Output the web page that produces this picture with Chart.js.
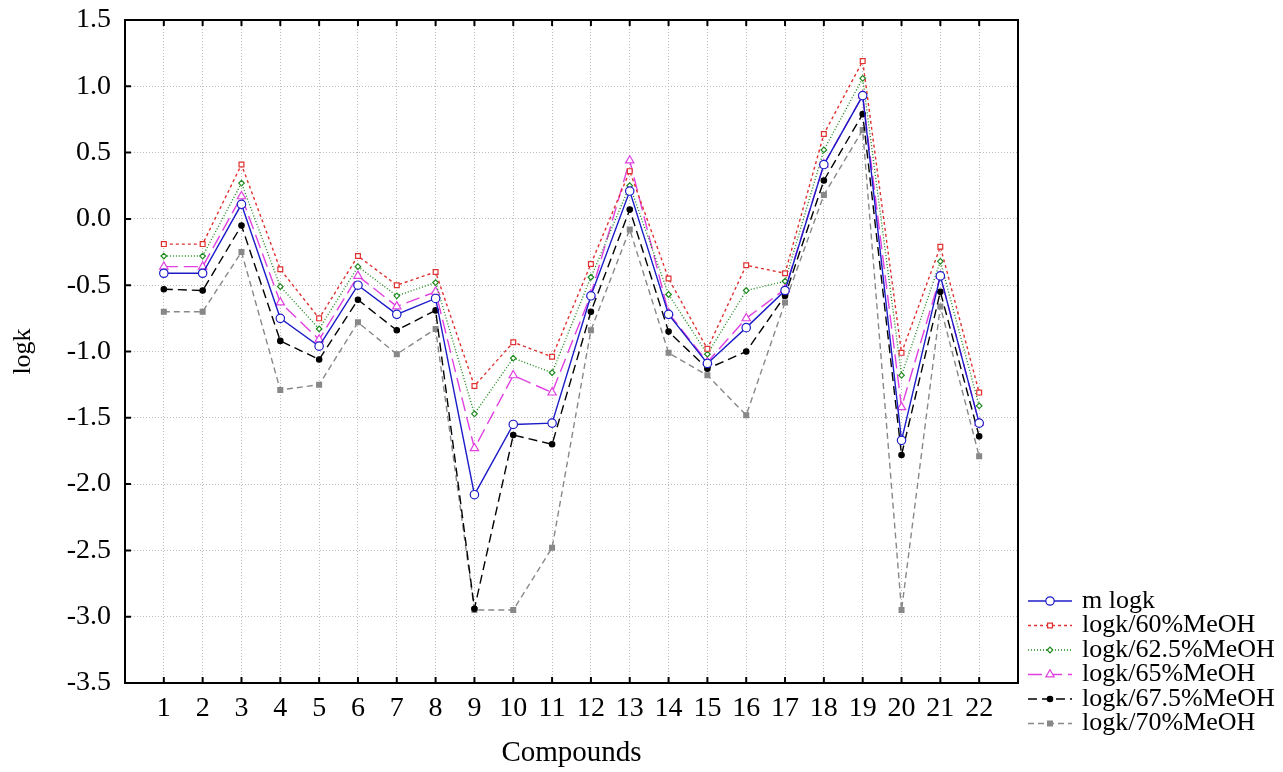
<!DOCTYPE html>
<html>
<head>
<meta charset="utf-8">
<script src="https://cdn.jsdelivr.net/npm/chart.js@4"></script>
<style>
  body { margin: 0; background: #fff; }
</style>
</head>
<body>
<canvas id="chart" width="1283" height="772"></canvas>
<script>
// data
const compounds = ["1","2","3","4","5","6","7","8","9","10","11","12","13","14","15","16","17","18","19","20","21","22"];
const yTicks = [-3.5, -3.0, -2.5, -2.0, -1.5, -1.0, -0.5, 0.0, 0.5, 1.0, 1.5];

const mLogk  = [-0.41,-0.41,0.11,-0.75,-0.96,-0.50,-0.72,-0.60,-2.08,-1.55,-1.54,-0.58,0.21,-0.72,-1.09,-0.82,-0.54,0.41,0.93,-1.67,-0.43,-1.54];
const meoh60 = [-0.19,-0.19,0.41,-0.38,-0.75,-0.28,-0.50,-0.40,-1.26,-0.93,-1.04,-0.34,0.36,-0.45,-0.98,-0.35,-0.41,0.64,1.19,-1.01,-0.21,-1.31];
const meoh625 = [-0.28,-0.28,0.27,-0.51,-0.83,-0.36,-0.58,-0.48,-1.47,-1.05,-1.16,-0.44,0.25,-0.57,-1.02,-0.54,-0.47,0.52,1.06,-1.18,-0.32,-1.41];
const meoh65 = [-0.36,-0.36,0.17,-0.63,-0.91,-0.43,-0.66,-0.55,-1.73,-1.18,-1.31,-0.57,0.44,-0.71,-1.08,-0.75,-0.53,0.41,0.93,-1.42,-0.43,-1.54];
const meoh675 = [-0.53,-0.54,-0.05,-0.92,-1.06,-0.61,-0.84,-0.69,-2.94,-1.63,-1.70,-0.70,0.07,-0.85,-1.13,-1.00,-0.58,0.29,0.79,-1.78,-0.55,-1.64];
const meoh70 = [-0.70,-0.70,-0.25,-1.29,-1.25,-0.78,-1.02,-0.83,-2.95,-2.95,-2.48,-0.84,-0.08,-1.01,-1.18,-1.48,-0.63,0.18,0.67,-2.95,-0.66,-1.79];

const serif = "'Liberation Serif', 'Times New Roman', serif";

function pts(values) {
  return values.map((v, i) => ({ x: i + 1, y: v }));
}

function series(label, values, color, dash, style, radius, fill) {
  return {
    label: label,
    data: pts(values),
    borderColor: color,
    borderWidth: 1.4,
    borderDash: dash,
    pointStyle: style,
    pointRadius: radius,
    pointBorderWidth: 1.2,
    pointBorderColor: color,
    pointBackgroundColor: fill,
    tension: 0,
  };
}

const datasets = [
  series("m logk", mLogk, "#1c1cc8", [], "circle", 4.2, "#fff"),
  series("logk/60%MeOH", meoh60, "#e03030", [3, 3], "rect", 3.4, "#fff"),
  series("logk/62.5%MeOH", meoh625, "#1f8a1f", [1, 2], "rectRot", 2.8, "#fff"),
  series("logk/65%MeOH", meoh65, "#e040e0", [14, 6], "triangle", 4.8, "#fff"),
  series("logk/67.5%MeOH", meoh675, "#000000", [9, 5], "circle", 2.7, "#000"),
  series("logk/70%MeOH", meoh70, "#888888", [6, 4], "rect", 3.4, "#888888"),
];

// inward ticks + line/marker legend
const extras = {
  id: "extras",
  afterDraw(chart) {
    const ctx = chart.ctx;
    const a = chart.chartArea;
    const xs = chart.scales.x;
    const ys = chart.scales.y;
    ctx.save();
    ctx.strokeStyle = "#000";
    ctx.lineWidth = 2;
    ctx.setLineDash([]);
    ctx.beginPath();
    for (let i = 1; i <= compounds.length; i++) {
      const px = xs.getPixelForValue(i);
      ctx.moveTo(px, a.bottom); ctx.lineTo(px, a.bottom - 6);
      ctx.moveTo(px, a.top); ctx.lineTo(px, a.top + 6);
    }
    yTicks.forEach(v => {
      const py = ys.getPixelForValue(v);
      ctx.moveTo(a.left, py); ctx.lineTo(a.left + 6, py);
    });
    ctx.stroke();
    ctx.strokeRect(a.left, a.top, a.right - a.left, a.bottom - a.top);

    // legend
    const lx = 1028, ly = 601, rowH = 24.5;
    chart.data.datasets.forEach((ds, i) => {
      const y = ly + i * rowH;
      ctx.strokeStyle = ds.borderColor;
      ctx.lineWidth = ds.borderWidth;
      ctx.setLineDash(ds.borderDash);
      ctx.beginPath();
      ctx.moveTo(lx, y); ctx.lineTo(lx + 44, y);
      ctx.stroke();
      ctx.setLineDash([]);
      ctx.lineWidth = ds.pointBorderWidth;
      ctx.fillStyle = ds.pointBackgroundColor;
      Chart.helpers.drawPoint(ctx, {
        pointStyle: ds.pointStyle,
        radius: ds.pointRadius,
        rotation: 0,
        borderWidth: ds.pointBorderWidth,
      }, lx + 22, y);
      ctx.fillStyle = "#000";
      ctx.font = "26px " + serif;
      ctx.textBaseline = "middle";
      ctx.fillText(ds.label, lx + 54, y);
    });
    ctx.restore();
  },
};

new Chart(document.getElementById("chart"), {
  type: "line",
  data: { datasets: datasets },
  options: {
    responsive: false,
    animation: false,
    layout: { padding: { left: 0, top: 20, right: 265, bottom: 0 } },
    plugins: {
      legend: { display: false },
      tooltip: { enabled: false },
    },
    scales: {
      x: {
        type: "linear",
        min: 0,
        max: 23,
        afterFit(scale) { scale.height = 89; },
        afterBuildTicks(scale) {
          scale.ticks = compounds.map((c, i) => ({ value: i + 1 }));
        },
        ticks: {
          padding: 9,
          color: "#000",
          font: { family: serif, size: 28 },
          callback: (v) => compounds[v - 1] || "",
          maxRotation: 0,
          autoSkip: false,
        },
        grid: {
          color: "#bdbdbd",
          lineWidth: 1,
          drawTicks: false,
        },
        border: { display: false, dash: [1, 2] },
        title: {
          display: true,
          text: "Compounds",
          color: "#000",
          font: { family: serif, size: 29 },
          padding: { top: 0, bottom: 1 },
        },
      },
      y: {
        min: -3.5,
        max: 1.5,
        afterFit(scale) {
          scale.width = 125;
          scale.paddingTop = 0;
          scale.paddingBottom = 0;
        },
        afterBuildTicks(scale) {
          scale.ticks = yTicks.map(v => ({ value: v }));
        },
        ticks: {
          padding: 14,
          color: "#000",
          font: { family: serif, size: 28 },
          callback: (v) => v.toFixed(1),
        },
        grid: {
          color: "#bdbdbd",
          lineWidth: 1,
          drawTicks: false,
        },
        border: { display: false, dash: [1, 2] },
        title: {
          display: true,
          text: "logk",
          color: "#000",
          font: { family: serif, size: 26 },
          padding: { top: 8, bottom: 0 },
        },
      },
    },
  },
  plugins: [extras],
});
</script>
</body>
</html>
